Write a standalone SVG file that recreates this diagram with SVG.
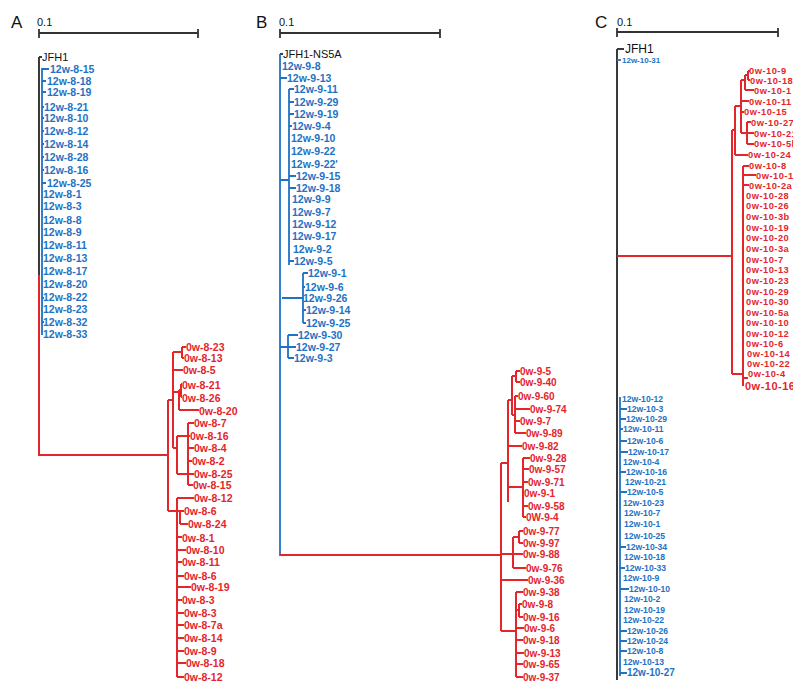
<svg xmlns="http://www.w3.org/2000/svg" width="809" height="689" viewBox="0 0 809 689">
<defs>
<style>
.pl{font:17px "Liberation Sans",Arial,sans-serif;fill:#111}
.sc{font:11px "Liberation Sans",Arial,sans-serif;fill:#111}
.k{font:11px "Liberation Sans",Arial,sans-serif;fill:#111}
.b{font:bold 10.5px "Liberation Sans",Arial,sans-serif;fill:#1f72c4}
.r{font:bold 10.5px "Liberation Sans",Arial,sans-serif;fill:#e4252b}
.rc{font:bold 9.3px "Liberation Sans",Arial,sans-serif;fill:#e4252b;letter-spacing:0.5px}
.rb{font:bold 10px "Liberation Sans",Arial,sans-serif;fill:#e4252b}
.bc{font:bold 8.6px "Liberation Sans",Arial,sans-serif;fill:#1f72c4}
.bar{stroke:#333;stroke-width:1.8;fill:none}
.dk{stroke:#3a3a3a;stroke-width:2;fill:none}
.bl{stroke:#1f72c4;stroke-width:1.8;fill:none}
.rl{stroke:#e4252b;stroke-width:2;fill:none}
</style>
<clipPath id="clipC"><rect x="0" y="0" width="793" height="689"/></clipPath>
</defs>
<rect width="809" height="689" fill="#fff"/>

<g id="labels-panels">
<text class="pl" x="11" y="28">A</text>
<text class="pl" x="256" y="28">B</text>
<text class="pl" x="595" y="28">C</text>
<text class="sc" x="37" y="26">0.1</text>
<text class="sc" x="279" y="26">0.1</text>
<text class="sc" x="617" y="26">0.1</text>
</g>

<g id="connectors">
<path class="bar" d="M39 33H198M39 29V38M198 29V38"/>
<path class="bar" d="M280 33H440M280 29V38M440 29V38"/>
<path class="bar" d="M617 32H778M617 28V37M778 28V37"/>

<path class="dk" d="M39 57V276M39 57H42"/>
<path class="rl" d="M39 275V455H168"/>
<path class="bl" d="M42 68V335M42 69H49M42 81H46M42 92H46M42 107H44M42 118H44M42 131H44M42 144H44M42 157H44M42 170H44M42 183H46M42 298H44M42 322H44"/>
<path class="rl" d="M168 400V511M168 400H173M173 352V448M173 352H182M182 347V358M182 347H186M182 358H184M173 370H183M173 392H179M179 390V410M179 390H181M181 384V397M181 384H182M181 397H182M179 410H199M173 448H177M177 436V474M177 436H188M188 423V485M188 423H194M188 436H190M188 448H194M188 461H192M188 485H193M177 474H194"/>
<path class="rl" d="M168 511H177M177 498V677M177 498H194M177 511H180M180 511V524M180 511H184M180 524H188M177 537H182M177 550H186M177 562H182M177 576H184M177 587H191M177 600H182M177 613H184M177 625H184M177 638H184M177 651H184M177 663H186M177 677H184"/>

<path class="dk" d="M280 54H283"/>
<path class="bl" d="M280 54V556M280 78H287M280 180H289M289 89V265M289 89H294M289 102H294M289 114H294M289 126H292M289 176H296M289 188H296M289 261H294M282 298H303M303 273V323M303 273H308M303 287H305M303 310H306M303 323H306M280 347H288M288 335V358M288 335H298M288 347H296M288 358H294"/>
<path class="rl" d="M280 555H501M501 463V631M501 463H508M508 400V502M508 400H512M512 376V415M512 376H516M516 371V382M516 371H520M516 382H520M512 415H515M515 396V433M515 396H518M515 409H530M515 421H520M515 433H526M508 446H522M508 487H523M523 458V517M523 458H530M523 469H529M523 482H528M523 506H528M523 517H526"/>
<path class="rl" d="M501 554H513M513 537V568M513 537H519M519 531V543M519 531H523M519 543H523M513 554H523M513 568H526M501 580H528M501 631H516M516 592V677M516 592H523M516 610H519M519 604V617M519 604H522M519 617H523M516 628H524M516 640H523M516 653H524M516 664H523M516 677H523"/>

<path class="dk" d="M617 49V680M617 49H624"/>
<path class="bl" d="M617 60H621"/>
<path class="rl" d="M617 256H732M732 130V374M732 130H735M735 106V155M735 155H748M735 106H741M741 80V133M741 80H745M745 75V90M745 75H748M748 71V80M748 71H750M748 80H750M745 90H754M741 101H749M741 112H744M741 133H747M747 122V144M747 122H751M747 133H754M747 144H754"/>
<path class="rl" d="M732 374H743M743 166V386M743 166H749M743 175H756M743 185H749M743 378H748"/>
<path class="bl" d="M620 397V676M620 409H627M620 419H626M620 429H623M620 441H627M620 452H628M620 472H626M620 492H627M620 547H626M620 568H625M620 589H629M620 631H627M620 641H627M620 651H627M620 673H627"/>
</g>

<g id="panelA-nodes">
<g id="A-JFH1"><text class="k" x="42" y="61">JFH1</text></g>
<g id="A-12w-8-15"><text class="b" x="50" y="73">12w-8-15</text></g>
<g id="A-12w-8-18"><text class="b" x="47" y="85">12w-8-18</text></g>
<g id="A-12w-8-19"><text class="b" x="47" y="96">12w-8-19</text></g>
<g id="A-12w-8-21"><text class="b" x="44" y="111">12w-8-21</text></g>
<g id="A-12w-8-10"><text class="b" x="44" y="122">12w-8-10</text></g>
<g id="A-12w-8-12"><text class="b" x="44" y="135">12w-8-12</text></g>
<g id="A-12w-8-14"><text class="b" x="44" y="148">12w-8-14</text></g>
<g id="A-12w-8-28"><text class="b" x="44" y="161">12w-8-28</text></g>
<g id="A-12w-8-16"><text class="b" x="44" y="174">12w-8-16</text></g>
<g id="A-12w-8-25"><text class="b" x="47" y="187">12w-8-25</text></g>
<g id="A-12w-8-1"><text class="b" x="43" y="198">12w-8-1</text></g>
<g id="A-12w-8-3"><text class="b" x="43" y="210">12w-8-3</text></g>
<g id="A-12w-8-8"><text class="b" x="43" y="224">12w-8-8</text></g>
<g id="A-12w-8-9"><text class="b" x="43" y="236">12w-8-9</text></g>
<g id="A-12w-8-11"><text class="b" x="43" y="249">12w-8-11</text></g>
<g id="A-12w-8-13"><text class="b" x="43" y="262">12w-8-13</text></g>
<g id="A-12w-8-17"><text class="b" x="43" y="275">12w-8-17</text></g>
<g id="A-12w-8-20"><text class="b" x="43" y="288">12w-8-20</text></g>
<g id="A-12w-8-22"><text class="b" x="43" y="301">12w-8-22</text></g>
<g id="A-12w-8-23"><text class="b" x="43" y="313">12w-8-23</text></g>
<g id="A-12w-8-32"><text class="b" x="43" y="326">12w-8-32</text></g>
<g id="A-12w-8-33"><text class="b" x="43" y="338">12w-8-33</text></g>
<g id="A-0w-8-23"><text class="r" x="186" y="351">0w-8-23</text></g>
<g id="A-0w-8-13"><text class="r" x="184" y="362">0w-8-13</text></g>
<g id="A-0w-8-5"><text class="r" x="183" y="374">0w-8-5</text></g>
<g id="A-0w-8-21"><text class="r" x="182" y="389">0w-8-21</text></g>
<g id="A-0w-8-26"><text class="r" x="182" y="402">0w-8-26</text></g>
<g id="A-0w-8-20"><text class="r" x="199" y="415">0w-8-20</text></g>
<g id="A-0w-8-7"><text class="r" x="194" y="427">0w-8-7</text></g>
<g id="A-0w-8-16"><text class="r" x="190" y="440">0w-8-16</text></g>
<g id="A-0w-8-4"><text class="r" x="194" y="452">0w-8-4</text></g>
<g id="A-0w-8-2"><text class="r" x="192" y="465">0w-8-2</text></g>
<g id="A-0w-8-25"><text class="r" x="194" y="478">0w-8-25</text></g>
<g id="A-0w-8-15"><text class="r" x="193" y="489">0w-8-15</text></g>
<g id="A-0w-8-12a"><text class="r" x="194" y="502">0w-8-12</text></g>
<g id="A-0w-8-6a"><text class="r" x="184" y="515">0w-8-6</text></g>
<g id="A-0w-8-24"><text class="r" x="188" y="528">0w-8-24</text></g>
<g id="A-0w-8-1"><text class="r" x="182" y="542">0w-8-1</text></g>
<g id="A-0w-8-10"><text class="r" x="186" y="554">0w-8-10</text></g>
<g id="A-0w-8-11"><text class="r" x="182" y="566">0w-8-11</text></g>
<g id="A-0w-8-6b"><text class="r" x="184" y="580">0w-8-6</text></g>
<g id="A-0w-8-19"><text class="r" x="191" y="591">0w-8-19</text></g>
<g id="A-0w-8-3a"><text class="r" x="182" y="604">0w-8-3</text></g>
<g id="A-0w-8-3b"><text class="r" x="184" y="617">0w-8-3</text></g>
<g id="A-0w-8-7a"><text class="r" x="184" y="629">0w-8-7a</text></g>
<g id="A-0w-8-14"><text class="r" x="184" y="642">0w-8-14</text></g>
<g id="A-0w-8-9"><text class="r" x="184" y="655">0w-8-9</text></g>
<g id="A-0w-8-18"><text class="r" x="186" y="667">0w-8-18</text></g>
<g id="A-0w-8-12b"><text class="r" x="184" y="681">0w-8-12</text></g>
</g>

<g id="panelB-nodes">
<g id="B-JFH1-NS5A"><text class="k" x="283" y="58">JFH1-NS5A</text></g>
<g id="B-12w-9-8"><text class="b" x="282" y="70">12w-9-8</text></g>
<g id="B-12w-9-13"><text class="b" x="287" y="82">12w-9-13</text></g>
<g id="B-12w-9-11"><text class="b" x="294" y="93">12w-9-11</text></g>
<g id="B-12w-9-29"><text class="b" x="294" y="106">12w-9-29</text></g>
<g id="B-12w-9-19"><text class="b" x="294" y="118">12w-9-19</text></g>
<g id="B-12w-9-4"><text class="b" x="292" y="130">12w-9-4</text></g>
<g id="B-12w-9-10"><text class="b" x="291" y="142">12w-9-10</text></g>
<g id="B-12w-9-22"><text class="b" x="291" y="155">12w-9-22</text></g>
<g id="B-12w-9-22p"><text class="b" x="291" y="168">12w-9-22'</text></g>
<g id="B-12w-9-15"><text class="b" x="296" y="180">12w-9-15</text></g>
<g id="B-12w-9-18"><text class="b" x="296" y="192">12w-9-18</text></g>
<g id="B-12w-9-9"><text class="b" x="292" y="203">12w-9-9</text></g>
<g id="B-12w-9-7"><text class="b" x="292" y="216">12w-9-7</text></g>
<g id="B-12w-9-12"><text class="b" x="292" y="228">12w-9-12</text></g>
<g id="B-12w-9-17"><text class="b" x="292" y="240">12w-9-17</text></g>
<g id="B-12w-9-2"><text class="b" x="293" y="253">12w-9-2</text></g>
<g id="B-12w-9-5"><text class="b" x="294" y="265">12w-9-5</text></g>
<g id="B-12w-9-1"><text class="b" x="308" y="277">12w-9-1</text></g>
<g id="B-12w-9-6"><text class="b" x="305" y="291">12w-9-6</text></g>
<g id="B-12w-9-26"><text class="b" x="303" y="302">12w-9-26</text></g>
<g id="B-12w-9-14"><text class="b" x="306" y="314">12w-9-14</text></g>
<g id="B-12w-9-25"><text class="b" x="306" y="327">12w-9-25</text></g>
<g id="B-12w-9-30"><text class="b" x="298" y="339">12w-9-30</text></g>
<g id="B-12w-9-27"><text class="b" x="296" y="351">12w-9-27</text></g>
<g id="B-12w-9-3"><text class="b" x="294" y="362">12w-9-3</text></g>
<g id="B-0w-9-5"><text class="rb" x="520" y="375">0w-9-5</text></g>
<g id="B-0w-9-40"><text class="rb" x="520" y="386">0w-9-40</text></g>
<g id="B-0w-9-60"><text class="rb" x="518" y="400">0w-9-60</text></g>
<g id="B-0w-9-74"><text class="rb" x="530" y="413">0w-9-74</text></g>
<g id="B-0w-9-7"><text class="rb" x="520" y="425">0w-9-7</text></g>
<g id="B-0w-9-89"><text class="rb" x="526" y="437">0w-9-89</text></g>
<g id="B-0w-9-82"><text class="rb" x="522" y="450">0w-9-82</text></g>
<g id="B-0w-9-28"><text class="rb" x="530" y="462">0w-9-28</text></g>
<g id="B-0w-9-57"><text class="rb" x="529" y="473">0w-9-57</text></g>
<g id="B-0w-9-71"><text class="rb" x="528" y="486">0w-9-71</text></g>
<g id="B-0w-9-1"><text class="rb" x="524" y="497">0w-9-1</text></g>
<g id="B-0w-9-58"><text class="rb" x="528" y="510">0w-9-58</text></g>
<g id="B-0W-9-4"><text class="rb" x="526" y="521">0W-9-4</text></g>
<g id="B-0w-9-77"><text class="rb" x="523" y="535">0w-9-77</text></g>
<g id="B-0w-9-97"><text class="rb" x="523" y="547">0w-9-97</text></g>
<g id="B-0w-9-88"><text class="rb" x="523" y="558">0w-9-88</text></g>
<g id="B-0w-9-76"><text class="rb" x="526" y="572">0w-9-76</text></g>
<g id="B-0w-9-36"><text class="rb" x="528" y="584">0w-9-36</text></g>
<g id="B-0w-9-38"><text class="rb" x="523" y="596">0w-9-38</text></g>
<g id="B-0w-9-8"><text class="rb" x="522" y="608">0w-9-8</text></g>
<g id="B-0w-9-16"><text class="rb" x="523" y="621">0w-9-16</text></g>
<g id="B-0w-9-6"><text class="rb" x="524" y="632">0w-9-6</text></g>
<g id="B-0w-9-18"><text class="rb" x="523" y="644">0w-9-18</text></g>
<g id="B-0w-9-13"><text class="rb" x="524" y="657">0w-9-13</text></g>
<g id="B-0w-9-65"><text class="rb" x="523" y="668">0w-9-65</text></g>
<g id="B-0w-9-37"><text class="rb" x="523" y="681">0w-9-37</text></g>
</g>

<g id="panelC-nodes">
<g id="C-JFH1"><text class="k" x="625" y="53" style="font-size:12px">JFH1</text></g>
<g id="C-12w-10-31"><text class="bc" x="622" y="63" style="font-size:8px">12w-10-31</text></g>
<g clip-path="url(#clipC)">
<g id="C-0w-10-9"><text class="rc" x="749" y="74">0w-10-9</text></g>
<g id="C-0w-10-18"><text class="rc" x="750" y="84">0w-10-18</text></g>
<g id="C-0w-10-1"><text class="rc" x="754" y="94">0w-10-1</text></g>
<g id="C-0w-10-11"><text class="rc" x="749" y="105">0w-10-11</text></g>
<g id="C-0w-10-15"><text class="rc" x="744" y="115">0w-10-15</text></g>
<g id="C-0w-10-27"><text class="rc" x="751" y="126">0w-10-27</text></g>
<g id="C-0w-10-21"><text class="rc" x="754" y="137">0w-10-21</text></g>
<g id="C-0w-10-5b"><text class="rc" x="754" y="147">0w-10-5b</text></g>
<g id="C-0w-10-24"><text class="rc" x="748" y="158">0w-10-24</text></g>
<g id="C-0w-10-8"><text class="rc" x="749" y="169">0w-10-8</text></g>
<g id="C-0w-10-17"><text class="rc" x="756" y="179">0w-10-17</text></g>
<g id="C-0w-10-2a"><text class="rc" x="749" y="189">0w-10-2a</text></g>
<g id="C-0w-10-28"><text class="rc" x="746" y="199">0w-10-28</text></g>
<g id="C-0w-10-26"><text class="rc" x="746" y="209">0w-10-26</text></g>
<g id="C-0w-10-3b"><text class="rc" x="746" y="220">0w-10-3b</text></g>
<g id="C-0w-10-19"><text class="rc" x="746" y="231">0w-10-19</text></g>
<g id="C-0w-10-20"><text class="rc" x="746" y="241">0w-10-20</text></g>
<g id="C-0w-10-3a"><text class="rc" x="746" y="252">0w-10-3a</text></g>
<g id="C-0w-10-7"><text class="rc" x="746" y="263">0w-10-7</text></g>
<g id="C-0w-10-13"><text class="rc" x="746" y="273">0w-10-13</text></g>
<g id="C-0w-10-23"><text class="rc" x="746" y="284">0w-10-23</text></g>
<g id="C-0w-10-29"><text class="rc" x="746" y="295">0w-10-29</text></g>
<g id="C-0w-10-30"><text class="rc" x="746" y="305">0w-10-30</text></g>
<g id="C-0w-10-5a"><text class="rc" x="746" y="316">0w-10-5a</text></g>
<g id="C-0w-10-10"><text class="rc" x="746" y="326">0w-10-10</text></g>
<g id="C-0w-10-12"><text class="rc" x="746" y="337">0w-10-12</text></g>
<g id="C-0w-10-6"><text class="rc" x="746" y="347">0w-10-6</text></g>
<g id="C-0w-10-14"><text class="rc" x="747" y="357">0w-10-14</text></g>
<g id="C-0w-10-22"><text class="rc" x="747" y="367">0w-10-22</text></g>
<g id="C-0w-10-4"><text class="rc" x="748" y="377">0w-10-4</text></g>
<g id="C-0w-10-16"><text class="rc" x="745" y="390" style="font-size:11px">0w-10-16</text></g>
</g>
<g id="C-12w-10-12"><text class="bc" x="622" y="402">12w-10-12</text></g>
<g id="C-12w-10-3"><text class="bc" x="627" y="412">12w-10-3</text></g>
<g id="C-12w-10-29"><text class="bc" x="626" y="422">12w-10-29</text></g>
<g id="C-12w-10-11"><text class="bc" x="623" y="432">12w-10-11</text></g>
<g id="C-12w-10-6"><text class="bc" x="627" y="444">12w-10-6</text></g>
<g id="C-12w-10-17"><text class="bc" x="628" y="455">12w-10-17</text></g>
<g id="C-12w-10-4"><text class="bc" x="623" y="465">12w-10-4</text></g>
<g id="C-12w-10-16"><text class="bc" x="626" y="475">12w-10-16</text></g>
<g id="C-12w-10-21"><text class="bc" x="625" y="485">12w-10-21</text></g>
<g id="C-12w-10-5"><text class="bc" x="627" y="495">12w-10-5</text></g>
<g id="C-12w-10-23"><text class="bc" x="623" y="506">12w-10-23</text></g>
<g id="C-12w-10-7"><text class="bc" x="624" y="516">12w-10-7</text></g>
<g id="C-12w-10-1"><text class="bc" x="624" y="527">12w-10-1</text></g>
<g id="C-12w-10-25"><text class="bc" x="624" y="539">12w-10-25</text></g>
<g id="C-12w-10-34"><text class="bc" x="626" y="550">12w-10-34</text></g>
<g id="C-12w-10-18"><text class="bc" x="624" y="560">12w-10-18</text></g>
<g id="C-12w-10-33"><text class="bc" x="625" y="571">12w-10-33</text></g>
<g id="C-12w-10-9"><text class="bc" x="623" y="581">12w-10-9</text></g>
<g id="C-12w-10-10"><text class="bc" x="629" y="592">12w-10-10</text></g>
<g id="C-12w-10-2"><text class="bc" x="624" y="602">12w-10-2</text></g>
<g id="C-12w-10-19"><text class="bc" x="624" y="613">12w-10-19</text></g>
<g id="C-12w-10-22"><text class="bc" x="623" y="623">12w-10-22</text></g>
<g id="C-12w-10-26"><text class="bc" x="627" y="634">12w-10-26</text></g>
<g id="C-12w-10-24"><text class="bc" x="627" y="644">12w-10-24</text></g>
<g id="C-12w-10-8"><text class="bc" x="627" y="654">12w-10-8</text></g>
<g id="C-12w-10-13"><text class="bc" x="623" y="665">12w-10-13</text></g>
<g id="C-12w-10-27"><text class="bc" x="627" y="676" style="font-size:10px">12w-10-27</text></g>
</g>
</svg>
